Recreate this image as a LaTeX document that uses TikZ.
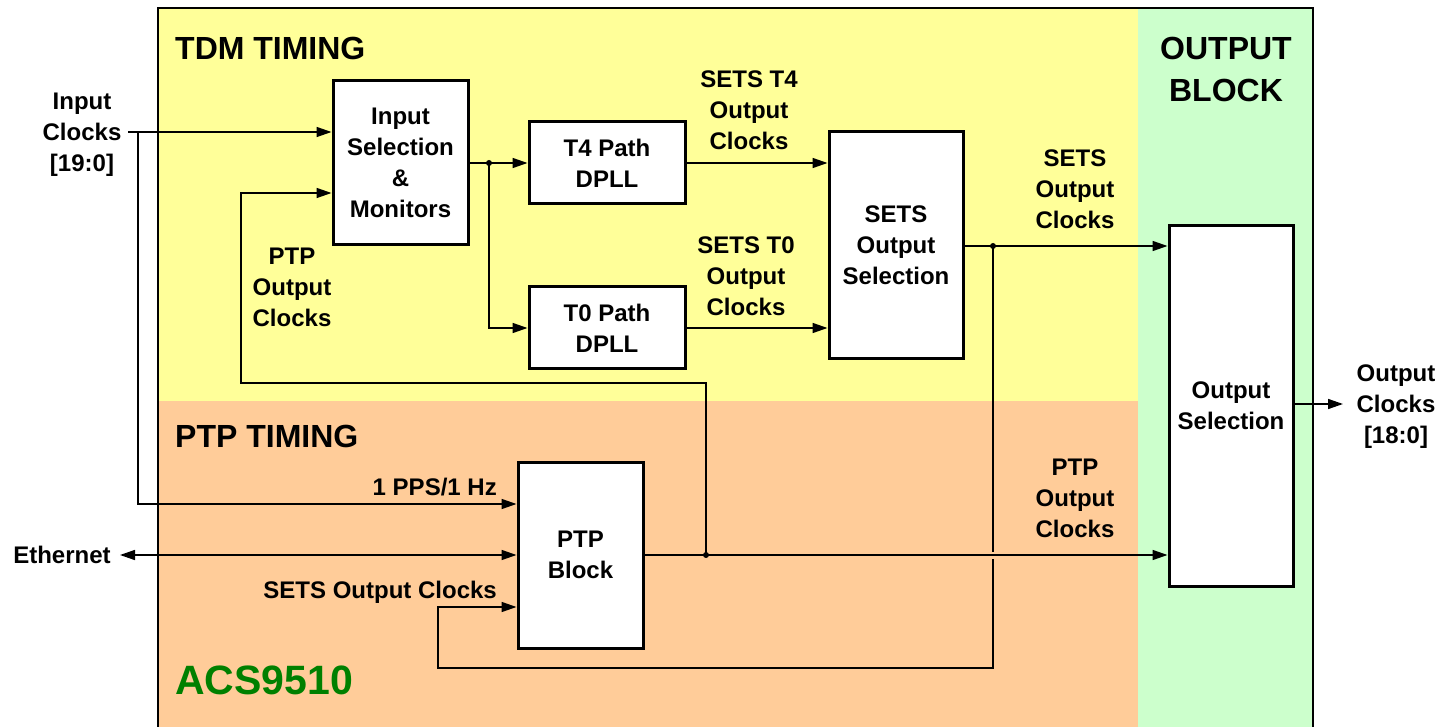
\documentclass[tikz,border=0pt]{standalone}
\usepackage{fontspec}
\setmainfont{Liberation Sans}
\usetikzlibrary{arrows.meta}
\definecolor{tdmY}{HTML}{FFFF99}
\definecolor{ptpO}{HTML}{FFCC99}
\definecolor{outG}{HTML}{CCFFCC}
\definecolor{acsG}{HTML}{008000}
\newcommand\bodyfnt{\fontsize{24}{31}\selectfont\bfseries}
\newcommand\hdrfnt{\fontsize{32}{42}\selectfont\bfseries}
\begin{document}
\begin{tikzpicture}[x=1pt,y=-1pt,
  blk/.style={draw, line width=3pt, fill=white, inner sep=0pt, align=center, font=\bodyfnt},
  lbl/.style={align=center, font=\bodyfnt, inner sep=0pt},
  hdr/.style={align=center, font=\hdrfnt, inner sep=0pt},
  conn/.style={line width=1.5pt},
  arr/.style={conn, -{Triangle[length=15pt,width=10pt]}},
  arrb/.style={conn, {Triangle[length=15pt,width=10pt]}-{Triangle[length=15pt,width=10pt]}},
  jdot/.style={fill=black}]
\useasboundingbox (0,0) rectangle (1452,727);
\clip (0,0) rectangle (1452,727);
% backgrounds
\fill[tdmY] (158,8) rectangle (1138,401);
\fill[ptpO] (158,401) rectangle (1138,740);
\fill[outG] (1138,8) rectangle (1313,740);
\draw[line width=1.5pt] (158,740) -- (158,8) -- (1313,8) -- (1313,740);
% headers
\node[hdr, anchor=west] (tdmh) at (175,48) {TDM TIMING};
\node[hdr, anchor=west] (ptph) at (175,436) {PTP TIMING};
\node[hdr] (outh) at (1226,69) {OUTPUT\\BLOCK};
\node[anchor=west, inner sep=0pt, font=\fontsize{41}{48}\selectfont\bfseries, text=acsG] (acs) at (175,680) {ACS9510};
% blocks
\node[blk, minimum width=135, minimum height=164] (ism) at (400.5,163) {Input\\Selection\\\&\\Monitors};
\node[blk, minimum width=156, minimum height=82] (t4) at (607,163) {T4 Path\\DPLL};
\node[blk, minimum width=156, minimum height=82] (t0) at (607,328) {T0 Path\\DPLL};
\node[blk, minimum width=134, minimum height=227] (sets) at (896,245.5) {SETS\\Output\\Selection};
\node[blk, minimum width=124, minimum height=360] (osel) at (1231,406) {Output\\Selection};
\node[blk, minimum width=125, minimum height=186] (ptp) at (580.5,555) {PTP\\Block};
% labels
\node[lbl] (inclk) at (82,134.5) {Input\\Clocks\\{[19:0]}};
\node[lbl] (ptpfb) at (292,287) {PTP\\Output\\Clocks};
\node[lbl] (t4lbl) at (749,110.5) {SETS T4\\Output\\Clocks};
\node[lbl] (t0lbl) at (746,276) {SETS T0\\Output\\Clocks};
\node[lbl] (setsl) at (1075,189) {SETS\\Output\\Clocks};
\node[lbl] (outc) at (1396,407) {Output\\Clocks\\{[18:0]}};
\node[lbl] (ptpol) at (1075,498) {PTP\\Output\\Clocks};
\node[lbl, anchor=base east] (ppsl) at (497,495.5) {1 PPS/1 Hz};
\node[lbl, anchor=base east] (setsin) at (497,598.5) {SETS Output Clocks};
\node[lbl] (eth) at (62,555) {Ethernet};
% coordinates
\coordinate (inA) at (128,132);
\coordinate (inV) at (138,132);
\coordinate (ppsy) at (0,504);
\coordinate (fby) at (0,193);
\coordinate (fbL) at (241,383);
\coordinate (jp) at (706,555);
\coordinate (js) at (489,163);
\coordinate (jo) at (993,246);
\coordinate (gapT) at (993,552);
\coordinate (gapB) at (993,559);
\coordinate (loopL) at (438,668);
\coordinate (sy) at (0,607);
\coordinate (ethE) at (120,555);
\coordinate (outT) at (1343,404);
% connectors
\draw[arr] (inA) -- (ism.west |- inA);
\draw[arr] (inV) |- (ptp.west |- ppsy);
\draw[arrb] (ethE) -- (ptp.west);
\draw[arr] (jp) |- (fbL) |- (ism.west |- fby);
\draw[conn] (ism.east |- js) -- (js);
\draw[arr] (js) -- (t4.west);
\draw[arr] (js) |- (t0.west);
\draw[arr] (t4.east) -- (sets.west |- t4.east);
\draw[arr] (t0.east) -- (sets.west |- t0.east);
\draw[conn] (sets.east |- jo) -- (jo);
\draw[arr] (jo) -- (osel.west |- jo);
\draw[conn] (jo) -- (gapT);
\draw[arr] (gapB) |- (loopL) |- (ptp.west |- sy);
\draw[arr] (ptp.east) -- (osel.west |- ptp.east);
\draw[arr] (osel.east |- outT) -- (outT);
\fill[jdot] (jp) circle (3);
\fill[jdot] (js) circle (3);
\fill[jdot] (jo) circle (3);
\end{tikzpicture}
\end{document}
